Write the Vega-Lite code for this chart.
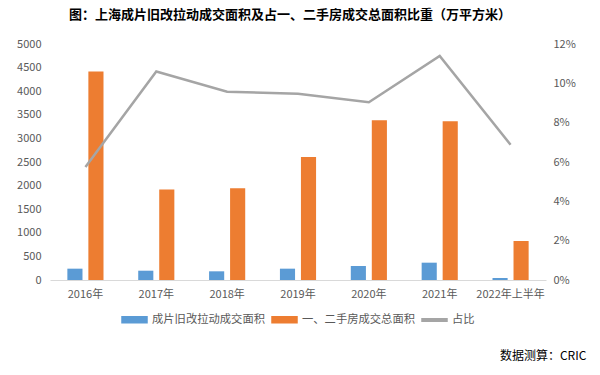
{
  "$schema": "https://vega.github.io/schema/vega-lite/v6.json",
  "background": "white",
  "padding": {"left": 16, "top": 9, "right": 5, "bottom": 5},
  "config": {"font": "Noto Sans CJK SC", "view": {"stroke": null}, "legend": {"layout": {"bottom": {"anchor": "middle"}}}},
  "title": {"text": "数据测算：CRIC", "orient": "bottom", "anchor": "end", "frame": "bounds", "fontSize": 12, "fontWeight": "normal", "color": "#000000", "offset": 25, "dx": 11},
  "datasets": {
    "bars": [
      {"year": "2016年", "series": "成片旧改拉动成交面积", "value": 240},
      {"year": "2016年", "series": "一、二手房成交总面积", "value": 4415},
      {"year": "2017年", "series": "成片旧改拉动成交面积", "value": 197},
      {"year": "2017年", "series": "一、二手房成交总面积", "value": 1915},
      {"year": "2018年", "series": "成片旧改拉动成交面积", "value": 184},
      {"year": "2018年", "series": "一、二手房成交总面积", "value": 1943},
      {"year": "2019年", "series": "成片旧改拉动成交面积", "value": 240},
      {"year": "2019年", "series": "一、二手房成交总面积", "value": 2606},
      {"year": "2020年", "series": "成片旧改拉动成交面积", "value": 297},
      {"year": "2020年", "series": "一、二手房成交总面积", "value": 3383},
      {"year": "2021年", "series": "成片旧改拉动成交面积", "value": 367},
      {"year": "2021年", "series": "一、二手房成交总面积", "value": 3362},
      {"year": "2022年上半年", "series": "成片旧改拉动成交面积", "value": 42},
      {"year": "2022年上半年", "series": "一、二手房成交总面积", "value": 826}
    ],
    "ratio": [
      {"year": "2016年", "ratio": 0.0575},
      {"year": "2017年", "ratio": 0.106},
      {"year": "2018年", "ratio": 0.0957},
      {"year": "2019年", "ratio": 0.0947},
      {"year": "2020年", "ratio": 0.0904},
      {"year": "2021年", "ratio": 0.1139},
      {"year": "2022年上半年", "ratio": 0.0688}
    ]
  },
  "vconcat": [
    {
      "width": 496,
      "height": 236,
      "title": {"text": "图：上海成片旧改拉动成交面积及占一、二手房成交总面积比重（万平方米）", "fontSize": 13, "fontWeight": "bold", "color": "#000000", "anchor": "middle", "offset": 16, "dx": -8},
      "layer": [
        {
          "data": {"name": "bars"},
          "mark": {"type": "bar"},
          "encoding": {
            "x": {
              "field": "year", "type": "nominal", "sort": null,
              "scale": {"paddingInner": 0.49, "paddingOuter": 0.245},
              "axis": {"title": null, "labelAngle": 0, "ticks": false, "domainColor": "#D9D9D9", "domainWidth": 1, "labelFontSize": 11, "labelColor": "#595959", "labelPadding": 8}
            },
            "xOffset": {
              "field": "series", "type": "nominal", "sort": null,
              "scale": {"domain": ["成片旧改拉动成交面积", "一、二手房成交总面积"], "paddingInner": 0.28, "paddingOuter": 0}
            },
            "y": {
              "field": "value", "type": "quantitative",
              "scale": {"domain": [0, 5000], "nice": false},
              "axis": {"title": null, "format": "d", "values": [0, 500, 1000, 1500, 2000, 2500, 3000, 3500, 4000, 4500, 5000], "ticks": false, "domain": false, "grid": false, "labelFontSize": 11, "labelColor": "#595959", "labelPadding": 9}
            },
            "color": {
              "field": "series", "type": "nominal",
              "scale": {"domain": ["成片旧改拉动成交面积", "一、二手房成交总面积", "占比"], "range": ["#5B9BD5", "#ED7D31", "#A5A5A5"]},
              "legend": {
                "title": null, "orient": "bottom", "direction": "horizontal",
                "labelFontSize": 11.3, "labelColor": "#595959",
                "symbolType": "M-1,-0.24L1,-0.24L1,0.24L-1,0.24Z", "symbolSize": 625,
                "columnPadding": 4, "labelOffset": 4, "offset": 7,
                "encode": {
                  "symbols": {
                    "update": {
                      "shape": {"signal": "datum.value === '占比' ? 'M-1,-0.1L1,-0.1L1,0.1L-1,0.1Z' : 'M-1,-0.24L1,-0.24L1,0.24L-1,0.24Z'"},
                      "fill": {"scale": "color", "field": "value"},
                      "stroke": {"value": "transparent"},
                      "opacity": {"value": 1},
                      "fillOpacity": {"value": 1}
                    }
                  }
                }
              }
            }
          }
        },
        {
          "data": {"name": "ratio"},
          "mark": {"type": "line", "strokeWidth": 2.5},
          "encoding": {
            "x": {"field": "year", "type": "nominal", "sort": null},
            "y": {
              "field": "ratio", "type": "quantitative",
              "scale": {"domain": [0, 0.12], "nice": false},
              "axis": {"title": null, "orient": "right", "format": ".0%", "values": [0, 0.02, 0.04, 0.06, 0.08, 0.1, 0.12], "ticks": false, "domain": false, "grid": false, "labelFontSize": 11, "labelColor": "#595959", "labelPadding": 7}
            },
            "color": {"datum": "占比"}
          }
        }
      ],
      "resolve": {"scale": {"y": "independent"}}
    }
  ]
}
